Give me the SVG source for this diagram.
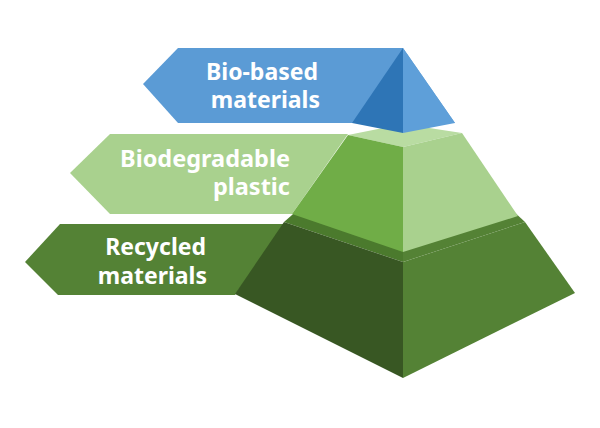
<svg xmlns="http://www.w3.org/2000/svg" width="600" height="428" viewBox="0 0 600 428">
<style>
.t{font-family:"Noto Sans","Open Sans","DejaVu Sans",sans-serif;font-weight:700;font-size:23px;fill:#ffffff;text-anchor:end}
</style>
<rect width="600" height="428" fill="#ffffff"/>
<g id="layer-recycled">
<polygon points="25,262 60,224 285,224 235,295 58,295" fill="#548235"/>
<polygon points="284,222 300,208 403,208 403,262" fill="#4b7a2d"/>
<polygon points="403,208 510,208 525,222 403,262" fill="#548235"/>
<polygon points="284,222 403,262 403,378 235,294" fill="#385723"/>
<polygon points="403,262 525,222 575,293 403,378" fill="#548235"/>
<text class="t"><tspan x="206" y="255">Recycled</tspan><tspan x="207" y="284">materials</tspan></text>
</g>
<g id="layer-biodegradable">
<polygon points="70,173 110,134 348,134 292,214 110,214" fill="#a9d18e"/>
<polygon points="348,135 403,124 462,133 403,147" fill="#b9dca2"/>
<polygon points="348,135 403,147 403,252 292,214" fill="#70ad47"/>
<polygon points="403,147 462,133 518,216 403,252" fill="#a9d18e"/>
<text class="t"><tspan x="290" y="167" font-size="23.5">Biodegradable</tspan><tspan x="290" y="195" font-size="23.5">plastic</tspan></text>
</g>
<g id="layer-biobased">
<polygon points="143,84 178,48 403,48 455,123 178,123" fill="#5b9bd5"/>
<polygon points="403,48 455,123 403,133" fill="#5e9fd9"/>
<polygon points="403,48 403,133 352,123" fill="#2e75b6"/>
<text class="t"><tspan x="318" y="80">Bio-based</tspan><tspan x="320" y="108">materials</tspan></text>
</g>
<g id="connectors"></g>
</svg>
